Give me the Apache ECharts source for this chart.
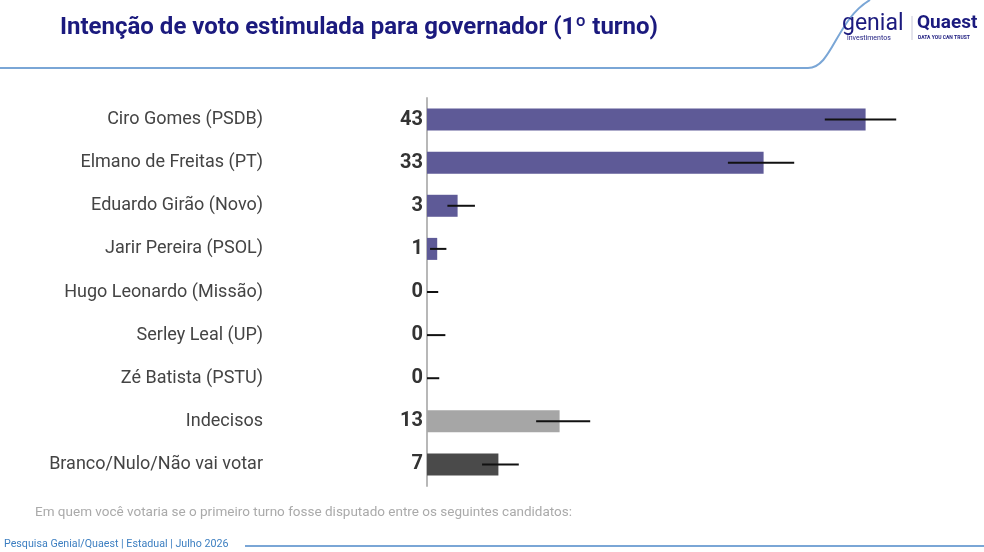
<!DOCTYPE html>
<html>
<head>
<meta charset="utf-8">
<title>Intenção de voto</title>
<script src="https://cdn.jsdelivr.net/npm/echarts@6/dist/echarts.min.js"></script>
<style>
  html, body { margin: 0; padding: 0; background: #fff; }
  #chart { width: 984px; height: 552px; }
</style>
</head>
<body>
<div id="chart"></div>
<script>
// dados
var candidatos = ['Ciro Gomes (PSDB)', 'Elmano de Freitas (PT)', 'Eduardo Girão (Novo)', 'Jarir Pereira (PSOL)',
  'Hugo Leonardo (Missão)', 'Serley Leal (UP)', 'Zé Batista (PSTU)', 'Indecisos', 'Branco/Nulo/Não vai votar'];
var votos = [43, 33, 3, 1, 0, 0, 0, 13, 7];
var margemMin = [39, 29.5, 2, 0.3, 0, 0, 0, 10.7, 5.4];
var margemMax = [46, 36, 4.7, 1.9, 1.1, 1.8, 1.2, 16, 9];
var cores = ['#5e5a97', '#5e5a97', '#5e5a97', '#5e5a97', '#5e5a97', '#5e5a97', '#5e5a97', '#a6a6a6', '#4a4a4a'];

var chart = echarts.init(document.getElementById('chart'));

var barras = votos.map(function (v, i) {
  return { value: v, itemStyle: { color: cores[i] } };
});
var erros = votos.map(function (v, i) {
  return [margemMin[i], margemMax[i], i];
});

chart.setOption({
  animation: false,
  textStyle: { fontFamily: 'Roboto' },
  grid: { left: 427, right: 47, top: 98, bottom: 66 },
  xAxis: {
    type: 'value', min: 0, max: 50,
    show: false
  },
  yAxis: {
    type: 'category',
    data: candidatos,
    inverse: true,
    axisLine: { show: true, lineStyle: { color: '#b8b8b8', width: 2 } },
    axisTick: { show: false },
    axisLabel: { margin: 164, fontSize: 18, color: '#444', fontFamily: 'Roboto' }
  },
  graphic: [
    { type: 'text', left: 60, top: 16, style: { text: 'Intenção de voto estimulada para governador (1º turno)', font: 'bold 24px Roboto', fill: '#1b1a7e' } },
    { type: 'line', shape: { x1: 0, y1: 68, x2: 808, y2: 68 }, style: { stroke: '#7aa6d6', lineWidth: 2 } },
    { type: 'bezierCurve', shape: { x1: 808, y1: 68, x2: 870, y2: 0, cpx1: 832, cpy1: 68, cpx2: 836, cpy2: 20 },
      style: { stroke: '#7aa6d6', lineWidth: 2, fill: null } },
    { type: 'text', left: 842, top: 13, style: { text: 'genial', font: '23px Roboto', fill: '#1b1a7e' } },
    { type: 'text', left: 847, top: 35, style: { text: 'investimentos', font: '7px Roboto', fill: '#1b1a7e' } },
    { type: 'line', shape: { x1: 912, y1: 16, x2: 912, y2: 40 }, style: { stroke: '#c8c8d8', lineWidth: 1 } },
    { type: 'text', left: 917, top: 14, style: { text: 'Quaest', font: 'bold 19px Roboto', fill: '#1b1a7e' } },
    { type: 'text', left: 918, top: 35, style: { text: 'DATA YOU CAN TRUST', font: 'bold 5px Roboto', fill: '#1b1a7e' } },
    { type: 'text', left: 35, top: 506, style: { text: 'Em quem você votaria se o primeiro turno fosse disputado entre os seguintes candidatos:', font: '13.5px Roboto', fill: '#aaaaaa' } },
    { type: 'text', left: 4, top: 539, style: { text: 'Pesquisa Genial/Quaest | Estadual | Julho 2026', font: '10.7px Roboto', fill: '#3d7fc1' } },
    { type: 'line', shape: { x1: 245, y1: 546, x2: 984, y2: 546 }, style: { stroke: '#7aa6d6', lineWidth: 2 } }
  ],
  series: [
    {
      type: 'bar',
      data: barras,
      barWidth: 22,
      label: {
        show: true, position: 'left', distance: 4,
        fontSize: 20, fontWeight: 'bold', color: '#333', fontFamily: 'Roboto'
      },
      z: 2
    },
    {
      type: 'custom',
      data: erros,
      encode: { x: [0, 1], y: 2 },
      z: 3,
      renderItem: function (params, api) {
        var a = api.coord([api.value(0), api.value(2)]);
        var b = api.coord([api.value(1), api.value(2)]);
        return {
          type: 'line',
          shape: { x1: a[0], y1: a[1], x2: b[0], y2: b[1] },
          style: { stroke: '#111', lineWidth: 2 }
        };
      }
    }
  ]
});
</script>
</body>
</html>
